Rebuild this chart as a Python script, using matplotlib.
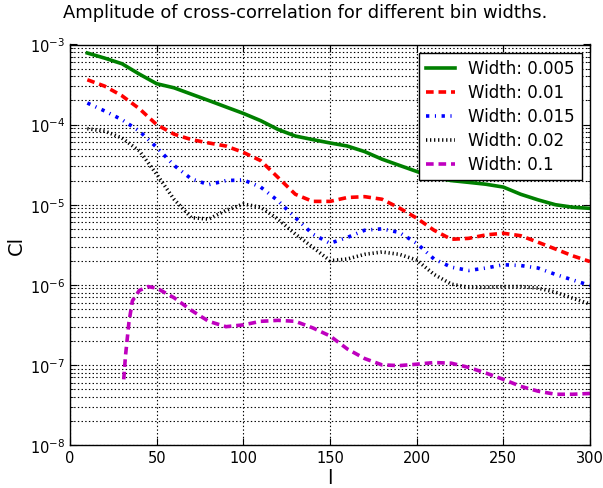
import matplotlib
matplotlib.use("Agg")
import matplotlib.pyplot as plt

x_main = [10, 20, 30, 40, 50, 60, 70, 80, 90, 100, 110, 120, 130, 140, 150,
          160, 170, 180, 190, 200, 210, 220, 230, 240, 250, 260, 270, 280, 290, 300]

w0005 = [7.83e-4, 6.76e-4, 5.75e-4, 4.27e-4, 3.24e-4, 2.88e-4, 2.40e-4, 2.00e-4, 1.66e-4, 1.38e-4,
         1.12e-4, 8.7e-5, 7.2e-5, 6.5e-5, 5.9e-5, 5.4e-5, 4.6e-5, 3.7e-5, 3.1e-5, 2.6e-5,
         2.2e-5, 2.0e-5, 1.9e-5, 1.8e-5, 1.66e-5, 1.35e-5, 1.15e-5, 1.0e-5, 9.3e-6, 9.0e-6]

w001 = [3.63e-4, 3.02e-4, 2.29e-4, 1.58e-4, 1.0e-4, 7.6e-5, 6.5e-5, 5.9e-5, 5.4e-5, 4.5e-5,
        3.55e-5, 2.19e-5, 1.35e-5, 1.10e-5, 1.10e-5, 1.23e-5, 1.26e-5, 1.17e-5, 9.1e-6, 6.8e-6,
        4.8e-6, 3.7e-6, 3.8e-6, 4.2e-6, 4.4e-6, 4.1e-6, 3.4e-6, 2.8e-6, 2.3e-6, 1.95e-6]

w0015 = [1.86e-4, 1.48e-4, 1.15e-4, 8.3e-5, 5.2e-5, 3.1e-5, 2.1e-5, 1.78e-5, 2.0e-5, 2.04e-5,
         1.66e-5, 1.12e-5, 6.9e-6, 4.3e-6, 3.3e-6, 3.9e-6, 4.8e-6, 5.0e-6, 4.5e-6, 3.3e-6,
         2.1e-6, 1.66e-6, 1.51e-6, 1.62e-6, 1.78e-6, 1.74e-6, 1.62e-6, 1.35e-6, 1.15e-6, 9.8e-7]

w002 = [8.9e-5, 8.3e-5, 6.8e-5, 4.7e-5, 2.4e-5, 1.17e-5, 6.9e-6, 6.6e-6, 8.5e-6, 1.02e-5,
        9.3e-6, 6.6e-6, 4.3e-6, 2.95e-6, 2.0e-6, 2.1e-6, 2.4e-6, 2.57e-6, 2.4e-6, 2.04e-6,
        1.35e-6, 1.02e-6, 9.3e-7, 9.3e-7, 9.5e-7, 9.5e-7, 9.1e-7, 8.1e-7, 6.8e-7, 5.75e-7]

x_01 = [31, 32, 34, 36, 40, 45, 50, 60, 70, 80, 90, 100, 110, 120, 130, 140, 150,
        160, 170, 180, 190, 200, 210, 220, 230, 240, 250, 260, 270, 280, 290, 300]
w01 = [6.6e-8, 1.29e-7, 3.4e-7, 6.3e-7, 8.5e-7, 9.5e-7, 9.1e-7, 6.9e-7, 4.8e-7, 3.5e-7, 3.0e-7,
       3.16e-7, 3.5e-7, 3.6e-7, 3.5e-7, 2.9e-7, 2.3e-7, 1.58e-7, 1.2e-7, 1.0e-7, 9.8e-8,
       1.02e-7, 1.07e-7, 1.05e-7, 9.3e-8, 7.9e-8, 6.6e-8, 5.4e-8, 4.7e-8, 4.3e-8, 4.3e-8, 4.4e-8]

labels = ["Width: 0.005", "Width: 0.01", "Width: 0.015", "Width: 0.02", "Width: 0.1"]
x_ticks = [0, 50, 100, 150, 200, 250, 300]

plt.rcParams['lines.scale_dashes'] = False

fig = plt.figure(figsize=(6.03, 4.89), dpi=100)
ax = fig.add_axes([70/603, 1-446/489, 520/603, (446-45.5)/489])

lw = 2.6
ax.plot(x_main, w0005, color=(0, 0.5, 0), lw=lw, ls='-', label=labels[0])
ax.plot(x_main, w001, color='r', lw=lw, ls=(0, (5.5, 3.5)), label=labels[1])
ax.plot(x_main, w0015, color='b', lw=lw, ls=(0, (2.4, 4, 0.8, 4)), label=labels[2])
ax.plot(x_main, w002, color='k', lw=lw, ls=(0, (0.9, 2.0)), label=labels[3])
ax.plot(x_01, w01, color=(0.75, 0, 0.75), lw=lw, ls=(0, (5.5, 3.5)), label=labels[4])

ax.set_yscale('log')
ax.set_xlim(0, 300)
ax.set_ylim(1e-8, 1e-3)
ax.set_xticks(x_ticks)

ax.grid(True, which='major', axis='x', ls=':', color='k', lw=0.8)
ax.grid(True, which='both', axis='y', ls=':', color='k', lw=0.8)
ax.tick_params(which='both', direction='in', top=True, right=True, labelsize=10.5)
ax.tick_params(which='major', length=5)
ax.tick_params(which='minor', length=2.5)
for s in ax.spines.values():
    s.set_linewidth(1.0)

fig.text(305/603, 1 - 13/489, "Amplitude of cross-correlation for different bin widths.",
         fontsize=12.85, ha='center', va='center')
ax.set_xlabel("l", fontsize=14, labelpad=2)
ax.set_ylabel("Cl", fontsize=14, labelpad=3)

leg = ax.legend(loc='upper right', fontsize=12, fancybox=False, framealpha=1,
                edgecolor='k', handlelength=1.75, borderaxespad=0.5, labelspacing=0.36)
leg.get_frame().set_linewidth(1.0)

fig.savefig("out.png", dpi=100)
